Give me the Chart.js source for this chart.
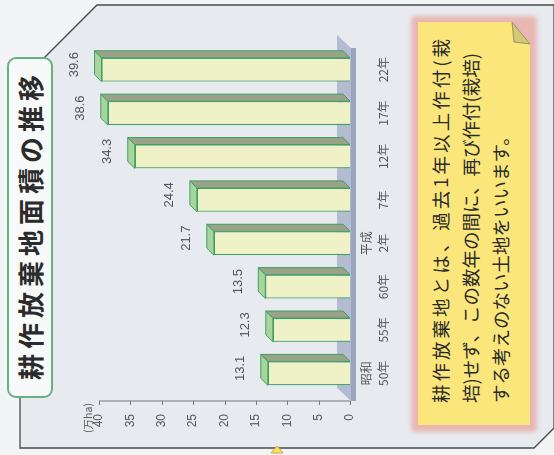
<!DOCTYPE html>
<html>
<head>
<meta charset="utf-8">
<script src="https://cdn.jsdelivr.net/npm/chart.js@4"></script>
<style>
body { margin: 0; width: 554px; height: 455px; overflow: hidden; background: #f3f4f5; font-family: "Noto Sans CJK JP", sans-serif; }
#deco { position: absolute; left: 0; top: 0; }
/* the whole chart is laid out upright, then turned a quarter turn to the left */
#stage { position: absolute; left: 0; top: 0; width: 455px; height: 554px; transform-origin: 0 0; transform: translateY(455px) rotate(-90deg); }
#title { position: absolute; left: 58px; top: 8px; width: 339px; height: 44px; line-height: 44px; text-align: center; font-size: 26px; font-weight: bold; letter-spacing: 5px; padding-left: 5px; box-sizing: border-box; color: #2b2b2b; }
#note { position: absolute; left: 52px; top: 425px; font-size: 18.5px; line-height: 30px; color: #2a2a2a; }
#note div { white-space: nowrap; }
#note .j { width: 364px; text-align: justify; text-align-last: justify; }
#chart { position: absolute; left: 0; top: 60px; }
</style>
</head>
<body>
<svg id="deco" width="554" height="455">
  <defs><filter id="soft"><feGaussianBlur stdDeviation="2"/></filter></defs>
  <polygon points="20,82 97,5 554,5 554,428 534,448 20,448" fill="#e7ebf0" stroke="#4a4a4a" stroke-width="1.3"/>
  <rect x="8" y="58" width="44" height="339" rx="8" fill="#f8faf9" stroke="#69b07f" stroke-width="2"/>
  <rect x="411" y="16" width="126" height="416" rx="4" fill="#e9aaa5" opacity="0.8" filter="url(#soft)"/>
  <polygon points="418,22 512,22 530,44 530,425 418,425" fill="#fbe67c"/>
  <polygon points="512,22 530,44 514,42" fill="#d6c878" stroke="#9c9360" stroke-width="1"/>
  <polygon points="271,453 277,446 283,453" fill="#f7e36a" stroke="#e0a030"/>
</svg>

<div id="stage">
  <div id="title">耕作放棄地面積の推移</div>
  <canvas id="chart" width="455" height="340"></canvas>
  <div id="note">
    <div class="j">耕作放棄地とは、過去1年以上作付(栽</div>
    <div>培)せず、この数年の間に、再び作付(栽培)</div>
    <div>する考えのない土地をいいます。</div>
  </div>
</div>

<script>
// Data
const categories = [['昭和', '50年'], ['', '55年'], ['', '60年'], ['平成', '2年'], ['', '7年'], ['', '12年'], ['', '17年'], ['', '22年']];
const areaValues = [13.1, 12.3, 13.5, 21.7, 24.4, 34.3, 38.6, 39.6];
const valueMin = 0;
const valueMax = 40;
const valueStep = 5;
const unitLabel = '(万ha)';

// 3D look: depth of each bar, floor under the bars, axis line and value labels
const depth = { x: 7, y: -7 };
const bar3d = {
    id: 'bar3d',
    beforeDatasetsDraw(chart) {
        const { ctx, scales: { x, y } } = chart;
        const y0 = y.getPixelForValue(valueMin);
        ctx.save();
        ctx.fillStyle = '#b4bcd1';
        ctx.beginPath();
        ctx.moveTo(x.left - 6, y0 + 1);
        ctx.lineTo(x.right, y0 + 1);
        ctx.lineTo(x.right + 13, y0 - 13);
        ctx.lineTo(x.left + 7, y0 - 13);
        ctx.closePath();
        ctx.fill();
        ctx.fillStyle = '#98a3bf';
        ctx.fillRect(x.left - 6, y0 + 1, x.right - x.left + 6, 5);
        ctx.restore();
    },
    afterDatasetsDraw(chart) {
        const { ctx, scales: { y } } = chart;
        const meta = chart.getDatasetMeta(0);
        ctx.save();
        meta.data.forEach((bar, i) => {
            const p = bar.getProps(['x', 'y', 'base', 'width'], true);
            const x0 = p.x - p.width / 2;
            const x1 = p.x + p.width / 2;
            // top face
            ctx.fillStyle = '#a8d59a';
            ctx.strokeStyle = '#3f9f66';
            ctx.lineWidth = 1;
            ctx.beginPath();
            ctx.moveTo(x0, p.y);
            ctx.lineTo(x1, p.y);
            ctx.lineTo(x1 + depth.x, p.y + depth.y);
            ctx.lineTo(x0 + depth.x, p.y + depth.y);
            ctx.closePath();
            ctx.fill();
            ctx.stroke();
            // side face
            ctx.fillStyle = '#9aa388';
            ctx.beginPath();
            ctx.moveTo(x1, p.y);
            ctx.lineTo(x1 + depth.x, p.y + depth.y);
            ctx.lineTo(x1 + depth.x, p.base + depth.y);
            ctx.lineTo(x1, p.base);
            ctx.closePath();
            ctx.fill();
            ctx.stroke();
            // value label
            ctx.fillStyle = '#555';
            ctx.font = '13px "Liberation Sans", sans-serif';
            ctx.textAlign = 'center';
            ctx.textBaseline = 'middle';
            ctx.fillText(areaValues[i].toFixed(1), p.x + 5, p.y - 27);
        });
        // value axis line with outward ticks
        const ax = 54;
        ctx.strokeStyle = '#777';
        ctx.lineWidth = 1;
        ctx.beginPath();
        ctx.moveTo(ax, y.getPixelForValue(valueMax));
        ctx.lineTo(ax, y.getPixelForValue(valueMin));
        for (let v = valueMin; v <= valueMax; v += valueStep) {
            const py = Math.round(y.getPixelForValue(v)) + 0.5;
            ctx.moveTo(ax - 4, py);
            ctx.lineTo(ax, py);
        }
        ctx.stroke();
        // unit
        ctx.fillStyle = '#555';
        ctx.font = '10.5px "Noto Sans CJK JP", sans-serif';
        ctx.textAlign = 'center';
        ctx.textBaseline = 'middle';
        ctx.fillText(unitLabel, 37, y.getPixelForValue(valueMax) - 11);
        ctx.restore();
    }
};

const ctx = document.getElementById('chart').getContext('2d');
const myChart = new Chart(ctx, {
    type: 'bar',
    data: {
        labels: categories,
        datasets: [
            {
                data: areaValues,
                backgroundColor: '#eef2c6',
                borderColor: '#3f9f66',
                borderWidth: 1.2,
                categoryPercentage: 1,
                barPercentage: 0.55,
            },
        ],
    },
    options: {
        responsive: false,
        animation: false,
        layout: { padding: { top: 39, right: 48, left: 0, bottom: 0 } },
        plugins: { legend: { display: false }, tooltip: { enabled: false } },
        scales: {
            x: {
                grid: { display: false, drawTicks: false },
                border: { display: false },
                ticks: { color: '#555', padding: 8, font: { size: 12, family: '"Noto Sans CJK JP", sans-serif', lineHeight: 1.4 } },
                afterFit: (scale) => { scale.height = 50; },
            },
            y: {
                min: valueMin,
                max: valueMax,
                grid: { display: false, drawTicks: false },
                border: { display: false },
                ticks: { stepSize: valueStep, color: '#555', padding: 19, font: { size: 12, family: '"Liberation Sans", sans-serif' } },
                afterFit: (scale) => { scale.width = 60; },
            },
        },
    },
    plugins: [bar3d],
});
</script>
</body>
</html>
